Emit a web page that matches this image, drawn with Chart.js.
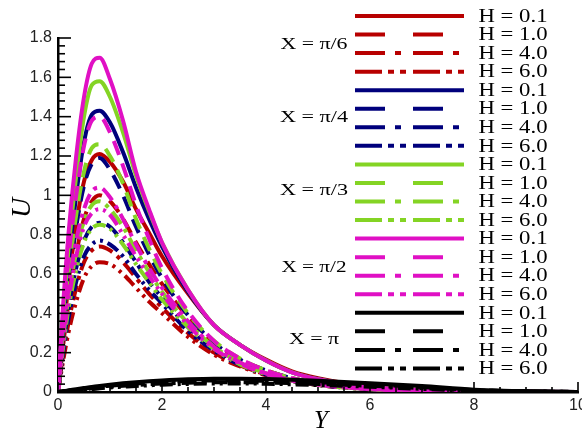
<!DOCTYPE html>
<html lang="en">
<head>
<meta charset="UTF-8" />
<title>U vs Y</title>
<style>
  body { margin: 0; background: #fff; }
  #wrap { width: 582px; height: 430px; }
</style>
</head>
<body>
<div id="wrap"><canvas id="uChart" width="582" height="430"></canvas></div>
<script src="https://cdn.jsdelivr.net/npm/chart.js"></script>
<script>
  const yPos = [0, 0.1, 0.2, 0.35, 0.5, 0.65, 0.8, 1.0, 1.25, 1.5, 1.75, 2.0, 2.5, 3.0, 3.5, 4.0, 4.5, 5.0, 6.0, 7.0, 8.0, 10.0];

  // X = pi/6 (red)
  const uPi6H01 = [0, 0.28, 0.55, 0.85, 1.07, 1.18, 1.21, 1.17, 1.07, 0.93, 0.81, 0.69, 0.5, 0.34, 0.24, 0.165, 0.105, 0.07, 0.028, 0.01, 0.003, 0];
  const uPi6H1  = [0, 0.24, 0.45, 0.7, 0.88, 0.97, 1.0, 0.97, 0.88, 0.76, 0.65, 0.55, 0.38, 0.25, 0.165, 0.11, 0.07, 0.045, 0.017, 0.006, 0.002, 0];
  const uPi6H4  = [0, 0.19, 0.35, 0.53, 0.66, 0.72, 0.74, 0.72, 0.66, 0.58, 0.5, 0.43, 0.3, 0.2, 0.135, 0.09, 0.058, 0.037, 0.015, 0.005, 0.002, 0];
  const uPi6H6  = [0, 0.16, 0.3, 0.46, 0.58, 0.64, 0.66, 0.65, 0.6, 0.53, 0.46, 0.4, 0.28, 0.19, 0.13, 0.085, 0.055, 0.035, 0.014, 0.005, 0.002, 0];
  // X = pi/4 (blue)
  const uPi4H01 = [0, 0.35, 0.65, 1.0, 1.27, 1.41, 1.43, 1.37, 1.22, 1.04, 0.88, 0.74, 0.51, 0.34, 0.24, 0.16, 0.1, 0.066, 0.026, 0.009, 0.003, 0];
  const uPi4H1  = [0, 0.3, 0.55, 0.84, 1.05, 1.16, 1.19, 1.13, 1.0, 0.84, 0.7, 0.58, 0.39, 0.25, 0.165, 0.11, 0.07, 0.045, 0.017, 0.006, 0.002, 0];
  const uPi4H4  = [0, 0.23, 0.42, 0.63, 0.77, 0.84, 0.86, 0.84, 0.76, 0.66, 0.56, 0.48, 0.33, 0.22, 0.145, 0.093, 0.06, 0.038, 0.015, 0.005, 0.002, 0];
  const uPi4H6  = [0, 0.2, 0.37, 0.56, 0.69, 0.75, 0.77, 0.75, 0.69, 0.6, 0.52, 0.45, 0.31, 0.21, 0.138, 0.088, 0.056, 0.036, 0.014, 0.005, 0.002, 0];
  // X = pi/3 (green)
  const uPi3H01 = [0, 0.4, 0.72, 1.1, 1.4, 1.56, 1.58, 1.5, 1.32, 1.1, 0.92, 0.76, 0.52, 0.34, 0.24, 0.16, 0.1, 0.065, 0.025, 0.008, 0.003, 0];
  const uPi3H1  = [0, 0.34, 0.6, 0.9, 1.12, 1.24, 1.26, 1.2, 1.06, 0.88, 0.73, 0.6, 0.4, 0.26, 0.17, 0.11, 0.07, 0.045, 0.017, 0.006, 0.002, 0];
  const uPi3H4  = [0, 0.27, 0.48, 0.71, 0.87, 0.95, 0.97, 0.93, 0.84, 0.72, 0.61, 0.51, 0.35, 0.23, 0.15, 0.095, 0.06, 0.038, 0.015, 0.005, 0.002, 0];
  const uPi3H6  = [0, 0.23, 0.42, 0.62, 0.76, 0.83, 0.85, 0.83, 0.75, 0.65, 0.56, 0.47, 0.33, 0.22, 0.14, 0.09, 0.057, 0.036, 0.014, 0.005, 0.002, 0];
  // X = pi/2 (magenta)
  const uPi2H01 = [0, 0.45, 0.8, 1.2, 1.5, 1.67, 1.7, 1.59, 1.38, 1.12, 0.93, 0.76, 0.52, 0.34, 0.24, 0.16, 0.1, 0.065, 0.025, 0.008, 0.003, 0];
  const uPi2H1  = [0, 0.38, 0.68, 1.0, 1.25, 1.38, 1.4, 1.32, 1.15, 0.95, 0.78, 0.63, 0.41, 0.26, 0.17, 0.11, 0.07, 0.045, 0.017, 0.006, 0.002, 0];
  const uPi2H4  = [0, 0.3, 0.52, 0.77, 0.93, 1.02, 1.04, 0.99, 0.88, 0.75, 0.63, 0.53, 0.36, 0.23, 0.15, 0.095, 0.06, 0.038, 0.015, 0.005, 0.002, 0];
  const uPi2H6  = [0, 0.26, 0.46, 0.69, 0.84, 0.91, 0.93, 0.9, 0.8, 0.69, 0.59, 0.5, 0.34, 0.22, 0.145, 0.092, 0.058, 0.037, 0.015, 0.005, 0.002, 0];
  // X = pi (black)
  const uPiH01 = [0, 0.004, 0.008, 0.014, 0.02, 0.026, 0.031, 0.037, 0.044, 0.05, 0.055, 0.059, 0.065, 0.068, 0.068, 0.066, 0.062, 0.057, 0.045, 0.03, 0.012, 0];
  const uPiH1  = [0, 0.003, 0.007, 0.012, 0.017, 0.022, 0.027, 0.032, 0.038, 0.043, 0.047, 0.051, 0.056, 0.059, 0.059, 0.057, 0.054, 0.049, 0.038, 0.025, 0.01, 0];
  const uPiH4  = [0, 0.003, 0.006, 0.01, 0.014, 0.018, 0.022, 0.027, 0.032, 0.036, 0.04, 0.043, 0.047, 0.05, 0.05, 0.048, 0.045, 0.041, 0.032, 0.02, 0.008, 0];
  const uPiH6  = [0, 0.002, 0.005, 0.008, 0.012, 0.015, 0.019, 0.023, 0.027, 0.031, 0.034, 0.037, 0.041, 0.043, 0.043, 0.042, 0.039, 0.035, 0.027, 0.016, 0.006, 0];

  const groupNames = ['X = \u03c0/6', 'X = \u03c0/4', 'X = \u03c0/3', 'X = \u03c0/2', 'X = \u03c0'];
  const hLabels = ['H = 0.1', 'H = 1.0', 'H = 4.0', 'H = 6.0'];
  const groupColors = ['#b80000', '#00007c', '#84d424', '#e010c4', '#000000'];
  const groupSeries = [
    [uPi6H01, uPi6H1, uPi6H4, uPi6H6],
    [uPi4H01, uPi4H1, uPi4H4, uPi4H6],
    [uPi3H01, uPi3H1, uPi3H4, uPi3H6],
    [uPi2H01, uPi2H1, uPi2H4, uPi2H6],
    [uPiH01, uPiH1, uPiH4, uPiH6]
  ];

  // dash styles per H value (plot and legend sample)
  const plotDash = [[], [15, 9], [15, 6, 4, 6], [13, 5, 3, 5, 3, 5]];
  const legendDash = [[], [30, 28], [30, 10, 6, 12], [27, 6, 6, 6, 6, 7]];

  const datasets = [];
  groupSeries.forEach((list, g) => {
    list.forEach((vals, h) => {
      datasets.push({
        label: groupNames[g] + ' ' + hLabels[h],
        data: yPos.map((yv, i) => ({ x: yv, y: vals[i] })),
        borderColor: groupColors[g],
        borderWidth: 4,
        borderDash: plotDash[h],
        pointRadius: 0,
        fill: false,
        cubicInterpolationMode: 'monotone',
        order: 19 - datasets.length
      });
    });
  });

  function stretchText(ctx, str, cx, cy, width) {
    const w = ctx.measureText(str).width;
    ctx.save();
    ctx.translate(cx, cy);
    ctx.scale(width / w, 1);
    ctx.textAlign = 'center';
    ctx.textBaseline = 'middle';
    ctx.fillText(str, 0, 0);
    ctx.restore();
  }

  const decor = {
    id: 'decor',
    afterDraw(chart) {
      const ctx = chart.ctx;
      const area = chart.chartArea;
      const xs = chart.scales.x, ys = chart.scales.y;
      ctx.save();
      ctx.strokeStyle = '#000';
      ctx.lineWidth = 1.6;
      ctx.setLineDash([]);
      // inward ticks on x
      for (let k = 0; k <= 20; k++) {
        const px = xs.getPixelForValue(k * 0.5);
        const len = k % 4 === 0 ? 10 : 5;
        ctx.beginPath(); ctx.moveTo(px, area.bottom); ctx.lineTo(px, area.bottom - len); ctx.stroke();
      }
      // inward ticks on y
      for (let k = 0; k <= 45; k++) {
        const py = ys.getPixelForValue(k * 0.04);
        const len = k % 5 === 0 ? 13 : 7;
        ctx.beginPath(); ctx.moveTo(area.left, py); ctx.lineTo(area.left + len, py); ctx.stroke();
      }

      // legend
      const rowTop = 16, rowStep = 18.55;
      ctx.fillStyle = '#000';
      ctx.font = '18px "Liberation Serif", "DejaVu Serif", serif';
      for (let g = 0; g < 5; g++) {
        for (let h = 0; h < 4; h++) {
          const row = g * 4 + h;
          const ly = rowTop + row * rowStep;
          ctx.strokeStyle = groupColors[g];
          ctx.lineWidth = 4;
          ctx.setLineDash(legendDash[h]);
          ctx.beginPath(); ctx.moveTo(355, ly); ctx.lineTo(464, ly); ctx.stroke();
          stretchText(ctx, hLabels[h], 513, ly + 1, 69);
        }
      }
      ctx.setLineDash([]);
      ctx.font = '17px "Liberation Serif", "DejaVu Serif", serif';
      const groupY = [45, 118, 191, 268, 340];
      const groupW = [67, 68, 68, 65, 50];
      groupNames.forEach((name, g) => stretchText(ctx, name, 314, groupY[g], groupW[g]));

      // axis titles
      ctx.font = 'italic 28px "Liberation Serif", "DejaVu Serif", serif';
      ctx.save();
      ctx.translate(23, 208);
      ctx.rotate(-Math.PI / 2);
      ctx.textAlign = 'center';
      ctx.textBaseline = 'middle';
      ctx.fillText('U', 0, 0);
      ctx.restore();
      ctx.font = 'italic 25px "Liberation Serif", "DejaVu Serif", serif';
      ctx.textAlign = 'center';
      ctx.textBaseline = 'alphabetic';
      ctx.fillText('Y', 321, 428);
      ctx.restore();
    }
  };

  new Chart(document.getElementById('uChart'), {
    type: 'line',
    data: { datasets },
    options: {
      responsive: false,
      animation: false,
      layout: { padding: { top: 38, right: 4, left: 0, bottom: 0 } },
      plugins: { legend: { display: false }, tooltip: { enabled: false } },
      scales: {
        x: {
          type: 'linear', min: 0, max: 10,
          afterFit: s => { s.height = 38; s.paddingRight = 0; s.paddingLeft = 0; },
          grid: { display: false, drawTicks: false },
          border: { display: true, color: '#000', width: 2.5 },
          ticks: { stepSize: 2, padding: 4, color: '#222', font: { family: 'Liberation Sans, Arial, sans-serif', size: 16 } }
        },
        y: {
          type: 'linear', min: 0, max: 1.8,
          afterFit: s => { s.width = 58; },
          grid: { display: false, drawTicks: false },
          border: { display: true, color: '#000', width: 2.5 },
          ticks: {
            stepSize: 0.2, padding: 6, color: '#222',
            font: { family: 'Liberation Sans, Arial, sans-serif', size: 16 },
            callback: v => String(+v.toFixed(1))
          }
        }
      }
    },
    plugins: [decor]
  });
</script>
</body>
</html>
